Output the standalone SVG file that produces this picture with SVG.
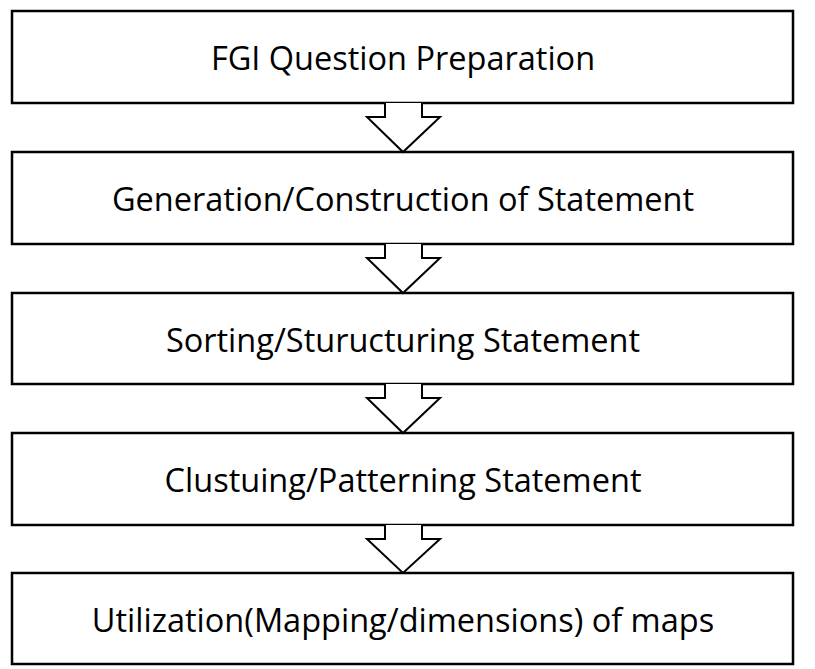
<svg xmlns="http://www.w3.org/2000/svg" width="815" height="669" viewBox="0 0 815 669">
<style>
.box{fill:#fff;stroke:#000;stroke-width:2.5}
.arr{fill:#fff;stroke:#000;stroke-width:2}
text{font-family:"Open Sans","Noto Sans",sans-serif;font-size:32.5px;text-anchor:middle;fill:#000}
</style>
<rect width="815" height="669" fill="#fff"/>
<g id="n1"><rect class="box" x="12" y="11" width="781" height="92"/><text x="403" y="70">FGI Question Preparation</text></g>
<g id="n2"><rect class="box" x="12" y="152" width="781" height="92"/><text x="403" y="211">Generation/Construction of Statement</text></g>
<g id="n3"><rect class="box" x="12" y="293" width="781" height="91"/><text x="403" y="352">Sorting/Sturucturing Statement</text></g>
<g id="n4"><rect class="box" x="12" y="433" width="781" height="92"/><text x="403" y="492">Clustuing/Patterning Statement</text></g>
<g id="n5"><rect class="box" x="12" y="573" width="781" height="91"/><text x="403" y="632">Utilization(Mapping/dimensions) of maps</text></g>
<g id="connectors">
<path class="arr" d="M385,103 V117 H367 L403,152 L440,117 H422 V103"/>
<path class="arr" d="M385,244 V258 H367 L403,293 L440,258 H422 V244"/>
<path class="arr" d="M385,384 V398 H367 L403,433 L440,398 H422 V384"/>
<path class="arr" d="M385,525 V539 H367 L403,573 L440,539 H422 V525"/>
</g>
</svg>
